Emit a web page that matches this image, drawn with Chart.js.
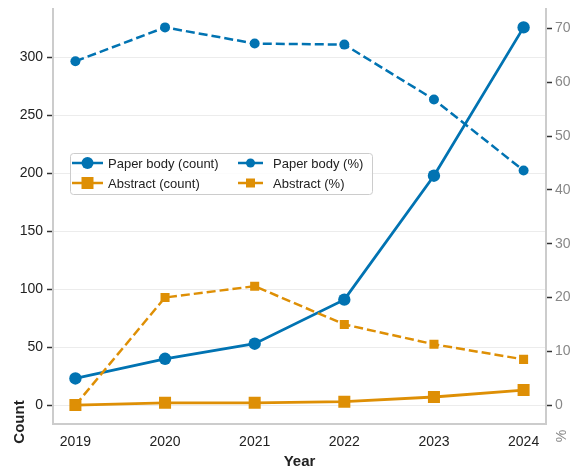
<!DOCTYPE html>
<html>
<head>
<meta charset="utf-8">
<script src="https://cdn.jsdelivr.net/npm/chart.js@4"></script>
<style>
  body { margin: 0; background: #fff; }
  canvas { display: block; }
</style>
</head>
<body>
<canvas id="c" width="577" height="470"></canvas>
<script>
const years = [2019, 2020, 2021, 2022, 2023, 2024];
const bodyCount = [23, 40, 53, 91, 198, 326];
const abstractCount = [0, 2, 2, 3, 7, 13];
const bodyPct = [63.9, 70.2, 67.2, 67.0, 56.8, 43.6];
const abstractPct = [0, 20.0, 22.1, 15.0, 11.3, 8.5];
const countTicks = [0, 50, 100, 150, 200, 250, 300];
const pctTicks = [0, 10, 20, 30, 40, 50, 60, 70];

const BLUE = '#0173b2';
const ORANGE = '#de8f05';
const FONT = '"Liberation Sans", Arial, sans-serif';

const pts = arr => arr.map((v, i) => ({ x: years[i], y: v }));

// legend, axis titles drawn by hand to match placement
const extras = {
  id: 'extras',
  afterDraw(chart) {
    const ctx = chart.ctx;
    const a = chart.chartArea;
    ctx.save();
    // axis titles
    ctx.fillStyle = '#222';
    ctx.font = 'bold 15px ' + FONT;
    ctx.textAlign = 'center';
    ctx.textBaseline = 'middle';
    ctx.fillText('Year', (a.left + a.right) / 2, 462);
    ctx.save();
    ctx.translate(20, 422);
    ctx.rotate(-Math.PI / 2);
    ctx.fillText('Count', 0, 0);
    ctx.restore();
    ctx.save();
    ctx.fillStyle = '#888';
    ctx.font = '14px ' + FONT;
    ctx.translate(562, 436);
    ctx.rotate(-Math.PI / 2);
    ctx.fillText('%', 0, 0);
    ctx.restore();

    // legend box
    const bx = 70, by = 153, bw = 302, bh = 41;
    ctx.fillStyle = 'rgba(255,255,255,0.85)';
    ctx.strokeStyle = '#cccccc';
    ctx.lineWidth = 1;
    ctx.beginPath();
    ctx.roundRect(bx + 0.5, by + 0.5, bw, bh, 3);
    ctx.fill();
    ctx.stroke();

    const items = [
      { label: 'Paper body (count)', color: BLUE, shape: 'circle', r: 6, lw: 2.5, x0: 72, x1: 103, tx: 108, y: 163 },
      { label: 'Abstract (count)', color: ORANGE, shape: 'square', r: 6, lw: 2.5, x0: 72, x1: 103, tx: 108, y: 183 },
      { label: 'Paper body (%)', color: BLUE, shape: 'circle', r: 4.5, lw: 2.5, x0: 238, x1: 263, tx: 273, y: 163 },
      { label: 'Abstract (%)', color: ORANGE, shape: 'square', r: 4.5, lw: 2.5, x0: 238, x1: 263, tx: 273, y: 183 }
    ];
    ctx.font = '13px ' + FONT;
    ctx.textAlign = 'left';
    items.forEach(it => {
      ctx.strokeStyle = it.color;
      ctx.fillStyle = it.color;
      ctx.lineWidth = it.lw;
      ctx.beginPath();
      ctx.moveTo(it.x0, it.y);
      ctx.lineTo(it.x1, it.y);
      ctx.stroke();
      const mx = (it.x0 + it.x1) / 2;
      ctx.beginPath();
      if (it.shape === 'circle') ctx.arc(mx, it.y, it.r, 0, Math.PI * 2);
      else ctx.rect(mx - it.r, it.y - it.r, it.r * 2, it.r * 2);
      ctx.fill();
      ctx.fillStyle = '#222';
      ctx.fillText(it.label, it.tx, it.y + 1);
    });
    ctx.restore();
  }
};

const fitY = w => s => { s.width = w; s.paddingTop = 0; s.paddingBottom = 0; };

new Chart(document.getElementById('c'), {
  type: 'line',
  data: {
    datasets: [
      {
        label: 'Paper body (%)', data: pts(bodyPct), yAxisID: 'y2', order: 0,
        borderColor: BLUE, backgroundColor: BLUE, borderWidth: 2.5, borderDash: [9, 4],
        pointStyle: 'circle', pointRadius: 5, pointBorderWidth: 0
      },
      {
        label: 'Abstract (%)', data: pts(abstractPct), yAxisID: 'y2', order: 0,
        borderColor: ORANGE, backgroundColor: ORANGE, borderWidth: 2.5, borderDash: [9, 4],
        pointStyle: 'rect', pointRadius: 6.4, pointBorderWidth: 0
      },
      {
        label: 'Paper body (count)', data: pts(bodyCount), yAxisID: 'y', order: 1,
        borderColor: BLUE, backgroundColor: BLUE, borderWidth: 2.8,
        pointStyle: 'circle', pointRadius: 6.2, pointBorderWidth: 0
      },
      {
        label: 'Abstract (count)', data: pts(abstractCount), yAxisID: 'y', order: 1,
        borderColor: ORANGE, backgroundColor: ORANGE, borderWidth: 2.8,
        pointStyle: 'rect', pointRadius: 8.5, pointBorderWidth: 0
      }
    ]
  },
  options: {
    responsive: false,
    animation: false,
    layout: { padding: { top: 7 } },
    plugins: { legend: { display: false }, tooltip: { enabled: false } },
    scales: {
      x: {
        type: 'linear', min: 2018.75, max: 2024.25,
        afterBuildTicks: s => { s.ticks = years.map(v => ({ value: v })); },
        afterFit: s => { s.height = 46; },
        grid: { display: false, drawTicks: false },
        border: { color: '#cccccc', width: 2 },
        ticks: { color: '#222', font: { size: 14, family: FONT }, padding: 10, callback: v => String(v) }
      },
      y: {
        position: 'left', min: -16.3, max: 342.3,
        afterBuildTicks: s => { s.ticks = countTicks.map(v => ({ value: v })); },
        afterFit: fitY(53),
        grid: { color: '#ececec', lineWidth: 1, tickColor: '#333', tickWidth: 1.5, tickLength: 6 },
        border: { color: '#cccccc', width: 2 },
        ticks: { color: '#222', font: { size: 14, family: FONT }, padding: 4 }
      },
      y2: {
        position: 'right', min: -3.51, max: 73.71,
        afterBuildTicks: s => { s.ticks = pctTicks.map(v => ({ value: v })); },
        afterFit: fitY(31),
        grid: { drawOnChartArea: false, tickColor: '#333', tickWidth: 1.5, tickLength: 6 },
        border: { color: '#cccccc', width: 2 },
        ticks: { color: '#888', font: { size: 14, family: FONT }, padding: 3 }
      }
    }
  },
  plugins: [extras]
});
</script>
</body>
</html>
